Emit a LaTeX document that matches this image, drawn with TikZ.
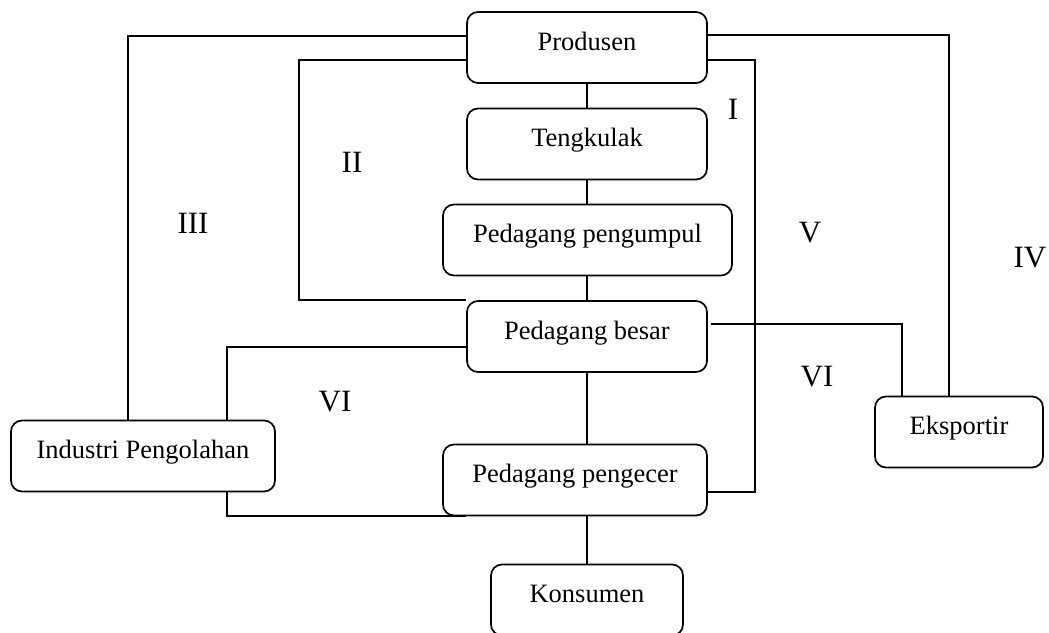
\documentclass[tikz,border=0pt]{standalone}
\usepackage{fontspec}
\setmainfont{Liberation Serif}
\begin{document}
\begin{tikzpicture}[x=1pt,y=-1pt,
  every node/.style={font=\fontsize{26.5}{30}\selectfont},
  box/.style={draw, line width=1.7pt, rounded corners=11pt, inner xsep=0pt, inner ysep=0pt,
    text height=38pt, text depth=33pt},
  lbl/.style={inner sep=0pt, font=\fontsize{31}{34}\selectfont},
  link/.style={line width=1.7pt}]
\useasboundingbox (0,0) rectangle (1049,632);

% chain boxes
\node[box, minimum width=240pt] (prod) at (587,47.5) {Produsen};
\node[box, minimum width=240pt] (teng) at (587,144) {Tengkulak};
\node[box, minimum width=289pt] (kump) at (587.5,240) {Pedagang pengumpul};
\node[box, minimum width=240pt] (besar) at (587,336.5) {Pedagang besar};
\node[box, minimum width=264pt] (ecer) at (575,480) {Pedagang pengecer};
\node[box, minimum width=192pt] (kons) at (587,600) {Konsumen};
\node[box, minimum width=264pt] (ind) at (143,456) {Industri Pengolahan};
\node[box, minimum width=168pt] (eks) at (959,432) {Eksportir};

% main vertical chain
\draw[link] (prod.south) -- (teng.north);
\draw[link] (teng.south) -- (kump.north -| teng.south);
\draw[link] (kump.south -| teng.south) -- (besar.north);
\draw[link] (besar.south) -- (ecer.north -| besar.south);
\draw[link] (ecer.south -| besar.south) -- (kons.north);

% bend points
\coordinate (kIII) at (128,36);
\coordinate (kII) at (299,60);
\coordinate (kIIb) at (299,300);
\coordinate (kV) at (755,60);
\coordinate (kVb) at (755,492);
\coordinate (kIV) at (949,35);
\coordinate (kVIr) at (902,324);
\coordinate (kVIa) at (227,347);
\coordinate (kVIb) at (227,516);

% channel III: Produsen - Industri Pengolahan
\draw[link] (prod.west |- kIII) -- (kIII) -- (kIII |- ind.north);
% channel II: Produsen - Pedagang besar
\draw[link] (prod.west |- kII) -- (kII) -- (kIIb) -- (besar.west |- kIIb);
% channel I / V: Produsen - Pedagang pengecer
\draw[link] (prod.east |- kV) -- (kV) -- (kVb) -- (ecer.east |- kVb);
% channel IV: Produsen - Eksportir
\draw[link] (prod.east |- kIV) -- (kIV) -- (kIV |- eks.north);
% channel VI: Pedagang besar - Eksportir
\draw[link] ([xshift=3pt]besar.east |- kVIr) -- (kVIr) -- (kVIr |- eks.north);
% channel VI: Pedagang besar - Industri Pengolahan - Pedagang pengecer
\draw[link] (besar.west |- kVIa) -- (kVIa) -- (kVIa |- ind.north);
\draw[link] (kVIa |- ind.south) -- (kVIb) -- (besar.west |- kVIb);

% channel labels
\node[lbl] (lI) at (733,109) {I};
\node[lbl] (lII) at (352,162) {II};
\node[lbl] (lIII) at (193,223) {III};
\node[lbl] (lV) at (810,233) {V};
\node[lbl] (lIV) at (1030,258) {IV};
\node[lbl] (lVIr) at (817,377) {VI};
\node[lbl] (lVIl) at (335,402) {VI};
\end{tikzpicture}
\end{document}
